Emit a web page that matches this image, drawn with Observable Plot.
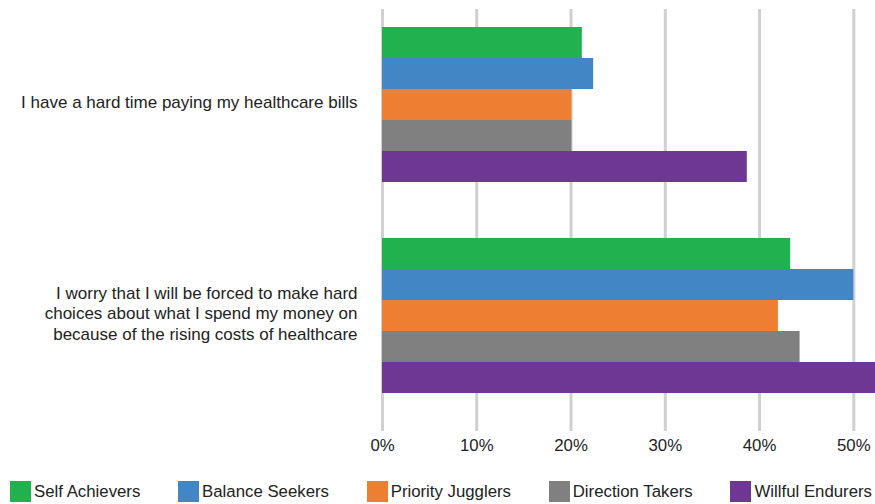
<!DOCTYPE html>
<html>
<head>
<meta charset="utf-8">
<script src="https://cdn.jsdelivr.net/npm/d3@7"></script>
<script src="https://cdn.jsdelivr.net/npm/@observablehq/plot@0.6"></script>
<style>
  html, body { margin: 0; padding: 0; background: #fff; overflow: hidden; }
  #chart svg { display: block; }
  .legend { display: flex; justify-content: space-between; align-items: center;
    width: 862px; margin: 11px 0 0 10px; font-family: "Liberation Sans", Arial, sans-serif;
    font-size: 16.8px; color: #222; }
  .legend .item { display: flex; align-items: center; }
  .legend .sw { width: 21px; height: 21px; margin-right: 3px; }
</style>
</head>
<body>
<div id="chart"></div>
<div class="legend" id="legend"></div>
<script>
const questions = [
  "I have a hard time paying my healthcare bills",
  "I worry that I will be forced to make hard\nchoices about what I spend my money on\nbecause of the rising costs of healthcare"
];
const series = ["Self Achievers", "Balance Seekers", "Priority Jugglers", "Direction Takers", "Willful Endurers"];
const billsValues = [21.2, 22.4, 20.1, 20.1, 38.7];
const worryValues = [43.3, 50.0, 42.0, 44.3, 52.5];
const colors = ["#21b14f", "#4386c6", "#ee7e31", "#808080", "#6d3793"];
const xTicks = [0, 10, 20, 30, 40, 50];

const data = [];
series.forEach((s, i) => {
  data.push({question: questions[0], series: s, value: billsValues[i]});
  data.push({question: questions[1], series: s, value: worryValues[i]});
});

const chart = Plot.plot({
  width: 875,
  height: 470,
  marginLeft: 382,
  marginRight: 0,
  marginTop: 8,
  marginBottom: 39,
  style: "font-family: 'Liberation Sans', Arial, sans-serif; font-size: 16.8px; color: #222; background: #fff;",
  x: {domain: [0, 52.3], ticks: xTicks, tickFormat: d => d + "%", tickSize: 0, tickPadding: 8, label: null},
  y: {domain: series, axis: null, paddingInner: 0, paddingOuter: 0.86, align: 0.33},
  fy: {domain: questions, axis: null, padding: 0},
  color: {domain: series, range: colors},
  marks: [
    Plot.ruleX(xTicks, {stroke: "#d0d0d0", strokeWidth: 3, strokeOpacity: 1}),
    Plot.barX(data, {x: "value", y: "series", fy: "question", fill: "series", inset: 0, clip: true}),
    Plot.text(questions, {fy: d => d, y: () => series[2], text: d => d, frameAnchor: "left",
      textAnchor: "end", dx: -25, dy: -3, lineHeight: 1.19, fill: "#222", fontSize: 17})
  ]
});
document.getElementById("chart").appendChild(chart);

const legend = document.getElementById("legend");
series.forEach((s, i) => {
  const item = document.createElement("div");
  item.className = "item";
  const sw = document.createElement("div");
  sw.className = "sw";
  sw.style.background = colors[i];
  const label = document.createElement("span");
  label.textContent = s;
  item.appendChild(sw);
  item.appendChild(label);
  legend.appendChild(item);
});
</script>
</body>
</html>
